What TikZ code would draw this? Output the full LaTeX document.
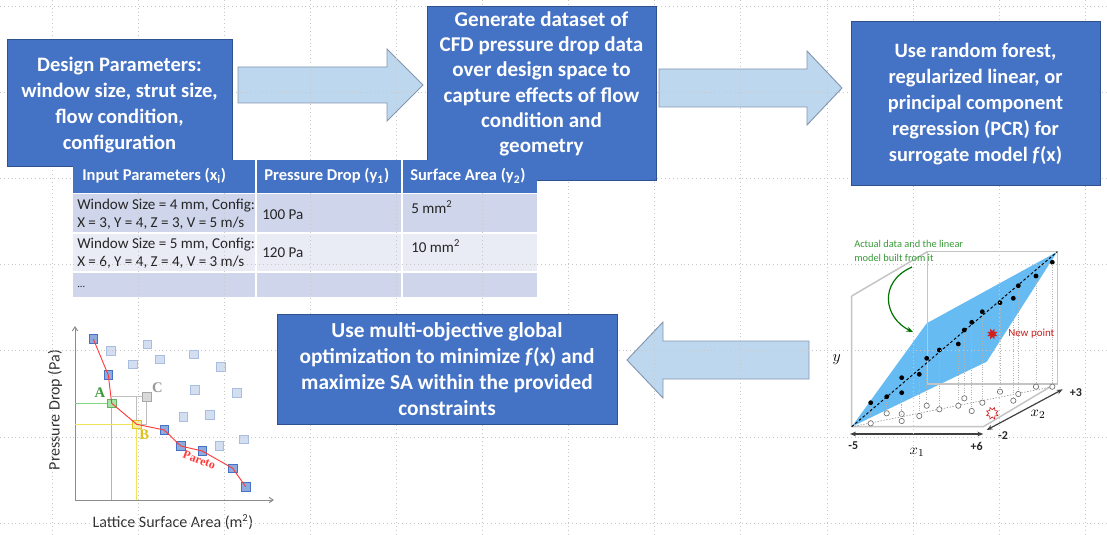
\documentclass[tikz,border=0pt]{standalone}
\usepackage{fontspec}
\setmainfont{Carlito}
\newfontfamily\serif{Liberation Serif}
\usetikzlibrary{arrows.meta,shapes.geometric}
\definecolor{boxblue}{HTML}{4472C4}
\definecolor{boxedge}{HTML}{2F528F}
\definecolor{arrfill}{HTML}{BDD7EE}
\definecolor{arredge}{HTML}{8497B0}
\definecolor{rowA}{HTML}{CFD5EA}
\definecolor{rowB}{HTML}{E9EBF5}
\definecolor{plane}{HTML}{66BBF2}
\definecolor{darksq}{HTML}{8FAADC}
\definecolor{lightsq}{HTML}{D3DEF0}
\definecolor{lightsqedge}{HTML}{A9BEDF}
\definecolor{gridc}{HTML}{C8C8C8}
\definecolor{agreen}{HTML}{7FD87F}
\definecolor{ayellow}{HTML}{F0E55A}
\definecolor{labgreen}{HTML}{3A9A3A}
\definecolor{labyellow}{HTML}{E0C020}
\definecolor{pred}{HTML}{FF3B3B}
\definecolor{nred}{HTML}{D02020}
\definecolor{boxgray}{HTML}{C4C4C4}
\tikzset{
  procbox/.style={draw=boxedge, line width=0.6pt, fill=boxblue, inner sep=0pt},
  boxtext/.style={text=white, font=\fontsize{16}{19.6}\selectfont\bfseries, align=center, inner sep=0pt},
  blockarrow/.style={draw=arredge, line width=0.7pt, fill=arrfill, line join=miter},
  hdrtext/.style={text=white, font=\fontsize{12.4}{14}\selectfont\bfseries, anchor=west, inner sep=0pt},
  celltext/.style={text=black!85, font=\fontsize{11.3}{13.3}\selectfont, anchor=west, align=left, inner sep=0pt},
  gridline/.style={gridc, line width=0.5pt, dash pattern=on 0.5pt off 2.4pt},
  sqdark/.style={draw=boxblue, fill=darksq, line width=0.5pt, minimum size=6.4pt, inner sep=0pt},
  sqlight/.style={draw=lightsqedge, fill=lightsq, line width=0.5pt, minimum size=6.4pt, inner sep=0pt},
  plotaxis/.style={draw=black!45, line width=0.75pt, -{Straight Barb[length=3pt,width=4pt]}},
  boxline/.style={draw=boxgray, line width=1.1pt},
  blackdot/.style={circle, fill=black, minimum size=3.6pt, inner sep=0pt},
  opendot/.style={circle, draw=black!60, fill=white, line width=0.45pt, minimum size=4pt, inner sep=0pt},
  numlab/.style={font=\fontsize{9}{10}\selectfont\bfseries, text=black!85, inner sep=0pt},
}
\begin{document}
\begin{tikzpicture}[x=0.75pt,y=-0.75pt]
\useasboundingbox (0,0) rectangle (1107,535);
\fill[white] (0,0) rectangle (1107,535);

% ---------- block arrows ----------
\draw[blockarrow] (238,67) -- (387,67) -- (387,49) -- (423,85) -- (387,121) -- (387,103) -- (238,103) -- cycle;
\draw[blockarrow] (659,69) -- (807,69) -- (807,51) -- (842,88) -- (807,125) -- (807,107) -- (659,107) -- cycle;
\draw[blockarrow] (809,341) -- (663,341) -- (663,322) -- (627,360) -- (663,398) -- (663,379) -- (809,379) -- cycle;

% ---------- table body ----------
\fill[rowA] (73,193) rectangle (537,233);
\fill[rowB] (73,233) rectangle (537,272);
\fill[rowA] (73,272) rectangle (537,297);
\draw[white, line width=1.3pt] (73,193) -- (537,193) (73,233) -- (537,233) (73,272) -- (537,272)
  (256,193) -- (256,297) (402,193) -- (402,297);
\node[celltext] (r1c1) at (77,214.5) {Window Size = 4 mm, Config:\\X = 3, Y = 4, Z = 3, V = 5 m/s};
\node[celltext] (r1c2) at (262,215) {100 Pa};
\node[celltext] (r1c3) at (411,207) {5 mm\textsuperscript{2}};
\node[celltext] (r2c1) at (77,253) {Window Size = 5 mm, Config:\\X = 6, Y = 4, Z = 4, V = 3 m/s};
\node[celltext] (r2c2) at (262,253) {120 Pa};
\node[celltext] (r2c3) at (411,246) {10 mm\textsuperscript{2}};
\node[celltext, font=\fontsize{8}{9}\selectfont] (r3c1) at (77,287) {...};

% ---------- Pareto plot ----------
\draw[plotaxis] (75,500) -- (75,326);
\draw[plotaxis] (75,500) -- (274,500);
\node[rotate=90, font=\fontsize{12}{14}\selectfont, text=black!80] (ylab) at (55,410) {Pressure Drop (Pa)};
\node[font=\fontsize{12}{14}\selectfont, text=black!80] (xlab) at (173,522) {Lattice Surface Area (m\textsuperscript{2})};

\coordinate (pA) at (111.7,403.3);
\coordinate (pB) at (136.7,424.3);
\coordinate (pC) at (146.7,396.7);
\draw[agreen, line width=1pt] (75,403.3) -- (pA) -- (111.7,500);
\draw[ayellow, line width=1pt] (75,424.3) -- (pB) -- (136.7,500);
\draw[black!25, line width=0.6pt] (111.7,396.7) -- (pC) -- (146.7,424.3) -- (pB) -- (136.7,396.7);

\foreach \n/\x/\y in {l1/111/350.7, l2/147.3/344.3, l3/132.7/364.3, l4/160/359.3, l5/194/354.3, l6/221/366.7,
  l7/195/390, l8/236.7/392.7, l9/183.3/416.7, l10/210/415, l11/244/439.3, l12/219.3/445.7}
  \node[sqlight] (\n) at (\x,\y) {};
\node[sqlight, draw=black!35, fill=black!15] (sqC) at (pC) {};
\foreach \n/\x/\y in {d1/93.3/339, d2/108.3/375, d5/164.3/430, d6/180.7/446, d7/202.3/451, d8/232.7/468.3, d9/245.7/486.7}
  \node[sqdark] (\n) at (\x,\y) {};
\node[sqdark, draw=agreen!80!black, fill=agreen!70] (sqA) at (pA) {};
\node[sqdark, draw=labyellow, fill=ayellow!60] (sqB) at (pB) {};
\draw[pred, line width=0.7pt] (d1.center) -- (d2.center) -- (sqA.center) -- (sqB.center) -- (d5.center) -- (d6.center) -- (d7.center) -- (d8.center) -- (d9.center);
\node[font=\serif\fontsize{11}{12}\selectfont\bfseries, text=labgreen] (labA) at (100,392.7) {A};
\node[font=\serif\fontsize{11}{12}\selectfont\bfseries, text=labyellow] (labB) at (144.3,434.3) {B};
\node[font=\serif\fontsize{11}{12}\selectfont\bfseries, text=black!40] (labC) at (157.3,387.7) {C};
\node[font=\serif\fontsize{9}{10}\selectfont\bfseries, text=pred, rotate=-20] (labP) at (199.3,460) {Pareto};

% ---------- 3D regression plot ----------
\coordinate (O) at (851.7,426.7);
\fill[plane] (O) -- (926.7,323.3) -- (1057.3,251.7) -- (986.7,361.7) -- cycle;
\draw[boxline] (927.3,251.7) rectangle (1057.3,384);
\draw[boxline] (851.7,296) -- (851.7,426.7) -- (983.3,426.7) -- (1053.3,385);
\draw[boxline] (851.7,296) -- (927.3,251.7);
\draw[black!45, line width=0.45pt, dash pattern=on 1pt off 1.2pt] (O) -- (1052.3,386.7);
\foreach \i/\x/\yd/\yc in {1/870.7/402.7/423.3, 2/886.7/396.7/413.3, 3/901.7/392.7/414, 4/901.7/377.7/421,
  5/919.3/374.3/416, 6/926.7/358.3/405.7, 7/939.3/350/409.3, 8/958.3/344/405.7, 9/964.3/330/398.3,
  10/971.7/322.3/411, 11/982.3/311.7/402.7, 12/1000/302.7/391.7, 13/1013.3/298.3/400.7, 14/1018.3/285.7/394,
  15/1036/276/386.7, 16/1052.3/262.3/386.7}
{
  \draw[black!30, line width=0.35pt, dash pattern=on 0.6pt off 1.2pt] (\x,\yd) -- (\x,\yc);
  \node[opendot] (c\i) at (\x,\yc) {};
}
\draw[black, line width=0.7pt, dash pattern=on 2pt off 1.6pt] (O) -- (1057.3,251.7);
\foreach \i/\x/\yd/\yc in {1/870.7/402.7/423.3, 2/886.7/396.7/413.3, 3/901.7/392.7/414, 4/901.7/377.7/421,
  5/919.3/374.3/416, 6/926.7/358.3/405.7, 7/939.3/350/409.3, 8/958.3/344/405.7, 9/964.3/330/398.3,
  10/971.7/322.3/411, 11/982.3/311.7/402.7, 12/1000/302.7/391.7, 13/1013.3/298.3/400.7, 14/1018.3/285.7/394,
  15/1036/276/386.7, 16/1052.3/262.3/386.7}
  \node[blackdot] (p\i) at (\x,\yd) {};
\node[star, star points=8, star point ratio=0.5, fill=nred, draw=nred, line width=0.3pt, minimum size=3.8pt, inner sep=0pt] (newpt) at (992.3,334) {};
\node[star, star points=8, star point ratio=0.6, draw=nred, fill=white, line width=0.5pt, minimum size=5.5pt, inner sep=0pt] (newproj) at (992.3,413.3) {};
\node[anchor=west, font=\fontsize{8.2}{9}\selectfont, text=nred, inner sep=0pt] (newlab) at (1008,334) {New point};
\node[anchor=north west, align=left, font=\fontsize{7.8}{10.5}\selectfont, text=labgreen, inner sep=0pt] (annot) at (854,240) {Actual data and the linear\\model built from it};
\coordinate (ga) at (912,267);
\coordinate (gb) at (913,332);
\draw[green!45!black, line width=0.9pt, -{Stealth[length=5pt,width=4pt]}] (ga) .. controls (878,282) and (884,318) .. (gb);
\coordinate (x1a) at (850,434);
\coordinate (x1b) at (983.3,434);
\coordinate (x2a) at (986.7,430);
\coordinate (x2b) at (1062.7,389.3);
\draw[black!75, line width=0.9pt, {Stealth[length=4.5pt,width=3.5pt]}-{Stealth[length=4.5pt,width=3.5pt]}] (x1a) -- (x1b);
\draw[black!75, line width=0.9pt, {Stealth[length=4.5pt,width=3.5pt]}-{Stealth[length=4.5pt,width=3.5pt]}] (x2a) -- (x2b);
\node[numlab] (m5) at (853.3,446) {-5};
\node[numlab] (p6) at (976.7,446) {+6};
\node[numlab] (m2) at (1003,436) {-2};
\node[numlab] (p3) at (1076,393) {+3};
\node[font=\fontsize{11}{12}\selectfont, inner sep=0pt] (x1l) at (917,452) {$x_1$};
\node[font=\fontsize{11}{12}\selectfont, inner sep=0pt] (x2l) at (1038,414) {$x_2$};
\node[font=\fontsize{12}{13}\selectfont, inner sep=0pt] (yl) at (836.7,360) {$y$};

% ---------- grid ----------
\foreach \k in {0,...,12} \draw[gridline] ({52+86.1*\k},0) -- ({52+86.1*\k},535);
\foreach \k in {0,...,6} \draw[gridline] (0,{6+86.2*\k}) -- (1107,{6+86.2*\k});

% ---------- process boxes ----------
\node[procbox, minimum width=168.75pt, minimum height=95.25pt] (b1) at (119.5,102.5) {};
\node[boxtext, font=\fontsize{15.4}{19.6}\selectfont\bfseries] (b1t) at (119.5,105) {Design Parameters:\\window size, strut size,\\flow condition,\\configuration};
\node[procbox, minimum width=171.75pt, minimum height=130.5pt] (b2) at (541.5,93) {};
\node[boxtext, font=\fontsize{15.8}{19}\selectfont\bfseries] (b2t) at (541.5,84) {Generate dataset of\\CFD pressure drop data\\over design space to\\capture effects of flow\\condition and\\geometry};
\node[procbox, minimum width=186.75pt, minimum height=123pt] (b3) at (975.5,103) {};
\node[boxtext, font=\fontsize{15.3}{19.6}\selectfont\bfseries] (b3t) at (975.5,104) {Use random forest,\\regularized linear, or\\principal component\\regression (PCR) for\\surrogate model \textit{f}(x)};
\node[procbox, minimum width=255pt, minimum height=82.5pt] (b4) at (447,369) {};
\node[boxtext] (b4t) at (b4.center) {Use multi-objective global\\optimization to minimize \textit{f}(x) and\\maximize SA within the provided\\constraints};

% ---------- table header ----------
\fill[boxblue] (73,160) rectangle (537,193);
\draw[white, line width=1.3pt] (256,160) -- (256,193) (402,160) -- (402,193);
\node[hdrtext] (h1) at (82,176) {Input Parameters (x\textsubscript{i})};
\node[hdrtext] (h2) at (264,176) {Pressure Drop (y\textsubscript{1})};
\node[hdrtext] (h3) at (410,176) {Surface Area (y\textsubscript{2})};
\end{tikzpicture}
\end{document}
